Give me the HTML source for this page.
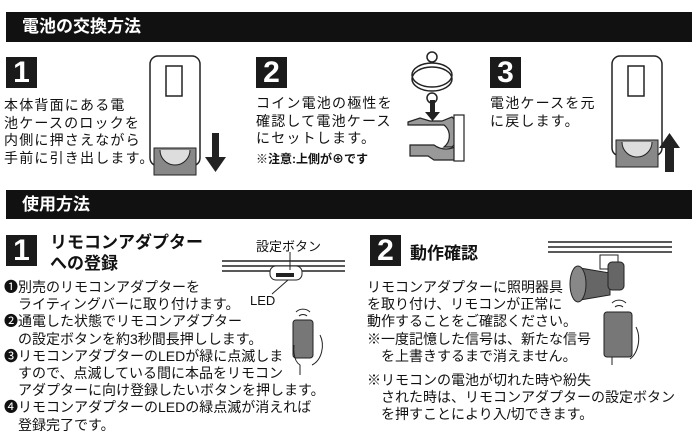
<!DOCTYPE html>
<html><head><meta charset="utf-8"><style>
body{margin:0;width:700px;height:441px;background:#fff;position:relative;overflow:hidden;font-family:"Liberation Sans","Noto Sans CJK JP",sans-serif;color:#111}
.a{position:absolute;white-space:nowrap}
.bar{position:absolute;left:6px;width:686px;background:#111;color:#fff;font-weight:bold;font-size:17px}
.num{position:absolute;width:31px;height:31px;background:#1a1a1a;color:#fff;font-weight:900;font-size:30px;line-height:31px;text-align:center;font-family:"Liberation Sans",sans-serif}
.t{font-size:14px;line-height:17.5px;letter-spacing:1.2px}
.u{font-size:14px;line-height:17.2px}
</style></head><body>
<div class="bar" style="top:12px;height:30px;line-height:30px"><span style="margin-left:16px">電池の交換方法</span></div>
<div class="num" style="left:6px;top:57px">1</div>
<div class="a t" style="left:4px;top:97px">本体背面にある電<br>池ケースのロックを<br>内側に押さえながら<br>手前に引き出します。</div>
<div class="num" style="left:256px;top:57px">2</div>
<div class="a t" style="left:256px;top:95px">コイン電池の極性を<br>確認して電池ケース<br>にセットします。</div>
<div class="a" style="left:256px;top:150px;font-size:12px;font-weight:bold">※注意:上側が⊕です</div>
<div class="num" style="left:490px;top:57px">3</div>
<div class="a t" style="left:490px;top:95px">電池ケースを元<br>に戻します。</div>

<svg class="a" style="left:0;top:0" width="700" height="441">
<g fill="none" stroke="#222" stroke-width="1.5">
<rect x="150" y="56" width="50" height="110" rx="8"/><rect x="166" y="66" width="16" height="30"/>
<rect x="612" y="56" width="50" height="100" rx="8"/><rect x="628" y="66" width="16" height="30"/>
<ellipse cx="432" cy="75" rx="20" ry="12"/><ellipse cx="432" cy="79" rx="20" ry="12"/>
<circle cx="432" cy="57" r="5"/><circle cx="432" cy="98" r="5"/>
</g>
<path d="M154 148h42v27h-42z" fill="#888" stroke="#222"/><path d="M160 150a15 15 0 0 0 30 0" fill="#ddd" stroke="#222"/>
<path d="M616 140h42v27h-42z" fill="#888" stroke="#222"/><path d="M622 142a15 15 0 0 0 30 0" fill="#ddd" stroke="#222"/>
<path d="M212 133h7v24h7l-10.5 15l-10.5-15h7z" fill="#222"/>
<path d="M665 172v-24h-6l10.5-15l10.5 15h-6v24z" fill="#222"/>
<path d="M430 100h5v12h5l-7.5 9l-7.5-9h5z" fill="#222"/>
<path d="M408 122l12-4l10 3h12l10-4a20 20 0 0 1 0 30h-8a14 14 0 0 0 0-22h-28l-8-0z" fill="#999" stroke="#222" stroke-width="1.2"/>
<path d="M410 145h24a20 20 0 0 0 24 0v15h-24l-6-4h-18z" fill="#999" stroke="#222" stroke-width="1.2"/>
<rect x="454" y="115" width="10" height="46" fill="#fff" stroke="#222" stroke-width="1.2"/>
<g stroke="#222" stroke-width="1.6"><line x1="222" y1="261" x2="345" y2="261"/><line x1="222" y1="266" x2="345" y2="266"/><line x1="222" y1="271" x2="345" y2="271"/>
<line x1="548" y1="242" x2="672" y2="242"/><line x1="548" y1="247" x2="672" y2="247"/><line x1="548" y1="252" x2="672" y2="252"/></g>
<rect x="270" y="266" width="32" height="14" rx="6" fill="#fff" stroke="#222"/><rect x="276" y="273" width="18" height="4" fill="#222"/>
<line x1="290" y1="252" x2="290" y2="270" stroke="#222"/><line x1="288" y1="280" x2="272" y2="294" stroke="#222"/>
<rect x="293" y="320" width="20" height="38" rx="3" fill="#777" stroke="#222"/><path d="M300 375v-10c-8-5-6-20-6-20m26-10c5 10 2 25-8 30" fill="none" stroke="#222"/>
<path d="M296 312a10 10 0 0 1 14 0M299 316a6 6 0 0 1 8 0" fill="none" stroke="#222"/>
<rect x="600" y="255" width="18" height="14" fill="#fff" stroke="#222"/>
<path d="M580 268l30 5v22l-30 5z" fill="#666" stroke="#222"/><ellipse cx="578" cy="284" rx="8" ry="18" fill="#888" stroke="#222"/><rect x="608" y="262" width="16" height="28" rx="4" fill="#666" stroke="#222"/>
<rect x="604" y="312" width="28" height="45" rx="3" fill="#777" stroke="#222"/><path d="M612 365v-8m24-30c5 10 3 25-6 32" fill="none" stroke="#222"/>
<path d="M612 303a10 10 0 0 1 14 0M615 307a6 6 0 0 1 8 0" fill="none" stroke="#222"/>
</svg>

<div class="bar" style="top:190px;height:29px;line-height:29px"><span style="margin-left:16px">使用方法</span></div>
<div class="num" style="left:6px;top:235px">1</div>
<div class="a" style="left:50px;top:232px;font-size:17px;font-weight:bold;line-height:21px">リモコンアダプター<br>への登録</div>
<div class="a" style="left:256px;top:236px;font-size:13px">設定ボタン</div>
<div class="a" style="left:250px;top:293px;font-size:13px">LED</div>
<div class="a u" style="left:4px;top:279px">❶別売のリモコンアダプターを<br>　ライティングバーに取り付けます。<br>❷通電した状態でリモコンアダプター<br>　の設定ボタンを約3秒間長押しします。<br>❸リモコンアダプターのLEDが緑に点滅しま<br>　すので、点滅している間に本品をリモコン<br>　アダプターに向け登録したいボタンを押します。<br>❹リモコンアダプターのLEDの緑点滅が消えれば<br>　登録完了です。</div>
<div class="num" style="left:370px;top:235px">2</div>
<div class="a" style="left:410px;top:239px;font-size:17px;font-weight:bold">動作確認</div>
<div class="a u" style="left:367px;top:279px">リモコンアダプターに照明器具<br>を取り付け、リモコンが正常に<br>動作することをご確認ください。</div>
<div class="a u" style="left:367px;top:331px">※一度記憶した信号は、新たな信号<br>　を上書きするまで消えません。</div>
<div class="a u" style="left:367px;top:372px">※リモコンの電池が切れた時や紛失<br>　された時は、リモコンアダプターの設定ボタン<br>　を押すことにより入/切できます。</div>
</body></html>
